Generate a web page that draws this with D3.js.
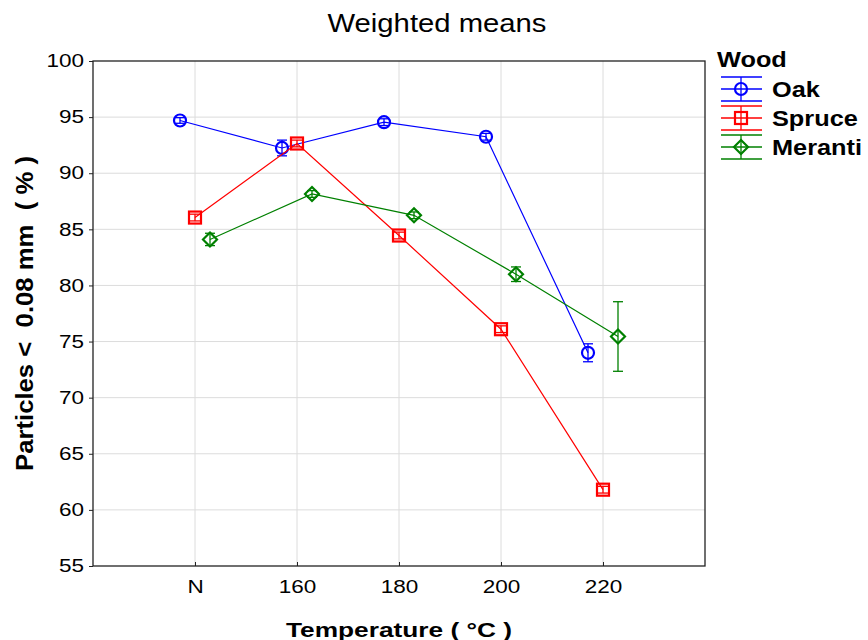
<!DOCTYPE html>
<html>
<head>
<meta charset="utf-8">
<script src="https://cdn.jsdelivr.net/npm/d3@7"></script>
<style>
	body { margin: 0; background: #fff; }
	text { font-family: "Liberation Sans", Arial, sans-serif; }
</style>
</head>
<body>
<svg id="chart"></svg>
<script>
'use strict';

var categories = ['N', '160', '180', '200', '220'];
var yTicks = [55, 60, 65, 70, 75, 80, 85, 90, 95, 100];
var seriesNames = ['Oak', 'Spruce', 'Meranti'];

var oakMeans = [94.7, 92.25, 94.55, 93.25, 74.0];
var oakErr = [0.25, 0.7, 0.3, 0.3, 0.8];
var spruceMeans = [86.05, 92.65, 84.45, 76.1, 61.8];
var spruceErr = [0.3, 0.3, 0.3, 0.3, 0.3];
var merantiMeans = [84.1, 88.15, 86.25, 81.0, 75.45];
var merantiErr = [0.55, 0.3, 0.3, 0.65, 3.1];

var WIDTH = 868,
	HEIGHT = 640;

var margin = { top: 61, right: 163, bottom: 74, left: 93 };

var blue = '#0000ff',
	red = '#ff0000',
	green = '#008000',
	gridColor = '#dcdcdc',
	axisColor = '#222';

var series = [
	{ name: seriesNames[0], means: oakMeans, err: oakErr, color: blue, shape: 'circle', offset: -15 },
	{ name: seriesNames[1], means: spruceMeans, err: spruceErr, color: red, shape: 'square', offset: 0 },
	{ name: seriesNames[2], means: merantiMeans, err: merantiErr, color: green, shape: 'diamond', offset: 15 }
];

var svg = d3.select('#chart')
	.attr('width', WIDTH)
	.attr('height', HEIGHT);

var plotW = WIDTH - margin.left - margin.right,
	plotH = HEIGHT - margin.top - margin.bottom;

// empty slots at both ends, like the original
var x = d3.scalePoint()
	.domain(['_a'].concat(categories, ['_b']))
	.range([0, plotW]);

var y = d3.scaleLinear()
	.domain([55, 100])
	.range([plotH, 0]);

// the original text is drawn a bit wider than the font
function stretch(sel, factor) {
	sel.each(function () {
		var w = this.getComputedTextLength();
		d3.select(this)
			.attr('textLength', w * factor)
			.attr('lengthAdjust', 'spacingAndGlyphs');
	});
}

var g = svg.append('g')
	.attr('transform', 'translate(' + margin.left + ',' + margin.top + ')');

// grid
g.selectAll('.hgrid')
	.data(yTicks.slice(1, -1))
	.enter()
	.append('line')
	.attr('x1', 0)
	.attr('x2', plotW)
	.attr('y1', function (d) { return y(d); })
	.attr('y2', function (d) { return y(d); })
	.style('stroke', gridColor)
	.style('stroke-width', 1);

g.selectAll('.vgrid')
	.data(categories)
	.enter()
	.append('line')
	.attr('x1', function (d) { return x(d); })
	.attr('x2', function (d) { return x(d); })
	.attr('y1', 0)
	.attr('y2', plotH)
	.style('stroke', gridColor)
	.style('stroke-width', 1);

// axes
var yAxis = d3.axisLeft(y)
	.tickValues(yTicks)
	.tickSize(4)
	.tickPadding(5);

var yg = g.append('g').call(yAxis);
yg.select('.domain').remove();
yg.selectAll('text')
	.style('font-size', '18px')
	.style('font-family', '"Liberation Sans", Arial, sans-serif')
	.attr('fill', '#000')
	.call(stretch, 1.25);
yg.selectAll('line').style('stroke', axisColor);

var xAxis = d3.axisBottom(x)
	.tickValues(categories)
	.tickSize(-4)
	.tickPadding(14);

var xg = g.append('g')
	.attr('transform', 'translate(0,' + plotH + ')')
	.call(xAxis);
xg.select('.domain').remove();
xg.selectAll('text')
	.style('font-size', '18px')
	.style('font-family', '"Liberation Sans", Arial, sans-serif')
	.attr('fill', '#000')
	.call(stretch, 1.25);
xg.selectAll('line').style('stroke', axisColor);

// frame
g.append('rect')
	.attr('x', 0)
	.attr('y', 0)
	.attr('width', plotW)
	.attr('height', plotH)
	.style('fill', 'none')
	.style('stroke', axisColor)
	.style('stroke-width', 1.3);

function drawMarker(sel, shape, color) {
	if (shape === 'circle') {
		sel.append('circle')
			.attr('r', 6)
			.style('fill', 'none')
			.style('stroke', color)
			.style('stroke-width', 2.2);
	} else if (shape === 'square') {
		sel.append('rect')
			.attr('x', -6)
			.attr('y', -6)
			.attr('width', 12)
			.attr('height', 12)
			.style('fill', 'none')
			.style('stroke', color)
			.style('stroke-width', 2.2);
	} else {
		sel.append('path')
			.attr('d', 'M0,-7L7,0L0,7L-7,0Z')
			.style('fill', 'none')
			.style('stroke', color)
			.style('stroke-width', 2.2);
	}
}

var line = d3.line()
	.x(function (d) { return d.x; })
	.y(function (d) { return d.y; });

series.forEach(function (s) {
	var pts = categories.map(function (c, i) {
		return {
			x: x(c) + s.offset,
			y: y(s.means[i]),
			lo: y(s.means[i] - s.err[i]),
			hi: y(s.means[i] + s.err[i])
		};
	});

	g.append('path')
		.datum(pts)
		.attr('d', line)
		.style('fill', 'none')
		.style('stroke', s.color)
		.style('stroke-width', 1.2);

	var eb = g.selectAll('.eb-' + s.name)
		.data(pts)
		.enter()
		.append('g');

	eb.append('line')
		.attr('x1', function (d) { return d.x; })
		.attr('x2', function (d) { return d.x; })
		.attr('y1', function (d) { return d.lo; })
		.attr('y2', function (d) { return d.hi; })
		.style('stroke', s.color)
		.style('stroke-width', 1.3);

	['lo', 'hi'].forEach(function (k) {
		eb.append('line')
			.attr('x1', function (d) { return d.x - 5; })
			.attr('x2', function (d) { return d.x + 5; })
			.attr('y1', function (d) { return d[k]; })
			.attr('y2', function (d) { return d[k]; })
			.style('stroke', s.color)
			.style('stroke-width', 1.3);
	});

	var mk = g.selectAll('.mk-' + s.name)
		.data(pts)
		.enter()
		.append('g')
		.attr('transform', function (d) { return 'translate(' + d.x + ',' + d.y + ')'; });
	drawMarker(mk, s.shape, s.color);
});

// title and axis labels
svg.append('text')
	.attr('x', 437)
	.attr('y', 32)
	.attr('text-anchor', 'middle')
	.style('font-size', '25px')
	.attr('textLength', 219)
	.attr('lengthAdjust', 'spacingAndGlyphs')
	.text('Weighted means');

svg.append('text')
	.attr('x', margin.left + plotW / 2)
	.attr('y', 637)
	.attr('text-anchor', 'middle')
	.style('font-size', '21px')
	.style('font-weight', 'bold')
	.attr('textLength', 226)
	.attr('lengthAdjust', 'spacingAndGlyphs')
	.text('Temperature ( °C )');

svg.append('text')
	.attr('transform', 'translate(33,' + (margin.top + plotH / 2) + ') rotate(-90)')
	.attr('text-anchor', 'middle')
	.style('font-size', '24px')
	.style('font-weight', 'bold')
	.style('white-space', 'pre')
	.attr('textLength', 315)
	.attr('lengthAdjust', 'spacingAndGlyphs')
	.text('Particles <  0.08 mm  ( % )');

// legend
var legend = svg.append('g')
	.attr('transform', 'translate(717,0)');

legend.append('text')
	.attr('x', 0)
	.attr('y', 67)
	.style('font-size', '22px')
	.style('font-weight', 'bold')
	.text('Wood')
	.call(stretch, 1.15);

var items = legend.selectAll('.legend-item')
	.data(series)
	.enter()
	.append('g')
	.attr('transform', function (d, i) { return 'translate(0,' + (89 + i * 29) + ')'; });

items.each(function (s) {
	var it = d3.select(this);
	[-12, 0, 12].forEach(function (dy) {
		it.append('line')
			.attr('x1', 4)
			.attr('x2', 45)
			.attr('y1', dy)
			.attr('y2', dy)
			.style('stroke', s.color)
			.style('stroke-width', 1.3);
	});
	it.append('line')
		.attr('x1', 24)
		.attr('x2', 24)
		.attr('y1', -12)
		.attr('y2', 12)
		.style('stroke', s.color)
		.style('stroke-width', 1.3);
	var m = it.append('g').attr('transform', 'translate(24,0)');
	drawMarker(m, s.shape, s.color);
	it.append('text')
		.attr('x', 55)
		.attr('y', 8)
		.style('font-size', '22px')
		.style('font-weight', 'bold')
		.text(s.name)
		.call(stretch, 1.15);
});
</script>
</body>
</html>
